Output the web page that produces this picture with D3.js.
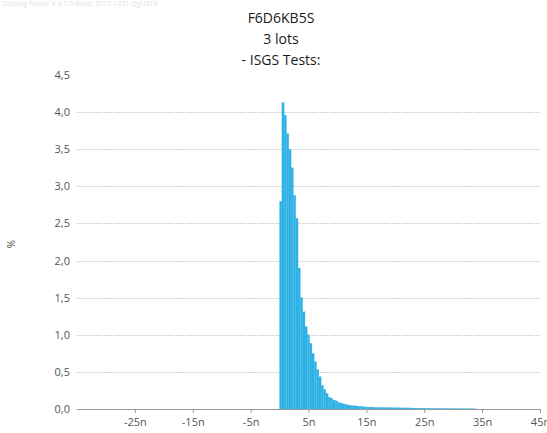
<!DOCTYPE html>
<html>
<head>
<meta charset="utf-8">
<script src="https://cdn.jsdelivr.net/npm/d3@7"></script>
<style>
  html, body { margin: 0; padding: 0; background: #fff; }
  svg { display: block; }
</style>
</head>
<body>
<script>
// Title lines
const titleLines = ["F6D6KB5S", "3 lots", "- ISGS Tests:"];
const watermark = "Datalog Finder V 4.1.0 Build: 2017-1251 QgUSTK";

// Histogram: bins of 0.4n starting at 0n, values in %
const binStart = 0;      // n
const binWidth = 0.4;    // n
const binValues = [
  2.80, 4.13, 3.96, 3.71, 3.50, 3.25, 2.88, 2.57, 1.90, 1.50,
  1.31, 1.11, 1.00, 0.885, 0.75, 0.64, 0.53, 0.435, 0.32, 0.265,
  0.21, 0.16, 0.145, 0.12, 0.11, 0.09, 0.08, 0.07, 0.065, 0.055,
  0.05, 0.045, 0.045, 0.04, 0.035, 0.035, 0.03, 0.028, 0.025, 0.027,
  0.024, 0.022, 0.02, 0.023, 0.019, 0.02, 0.018, 0.021, 0.017, 0.018,
  0.016, 0.017, 0.015, 0.016, 0.014, 0.015, 0.013, 0.014, 0.012, 0.013,
  0.012, 0.011, 0.012, 0.01, 0.011, 0.009, 0.01, 0.009, 0.008, 0.009,
  0.008, 0.007, 0.008, 0.006, 0.007, 0.006, 0.005, 0.006, 0.005, 0.004,
  0.005, 0.004, 0.003, 0.004, 0.003
];

// Axis ticks
const xTicks = [-25, -15, -5, 5, 15, 25, 35, 45];
const yTicks = [0, 0.5, 1, 1.5, 2, 2.5, 3, 3.5, 4, 4.5];
const yLabel = "%";

const W = 547, H = 433;
const plot = { left: 77, right: 540, top: 75, bottom: 409 };

const svg = d3.select("body").append("svg")
  .attr("width", W).attr("height", H);

const x = d3.scaleLinear().domain([-35, 45]).range([plot.left, plot.right]);
const y = d3.scaleLinear().domain([0, 4.5]).range([plot.bottom, plot.top]);

const font = "'Open Sans', 'DejaVu Sans', sans-serif";

// faint build stamp
svg.append("text")
  .attr("x", 2).attr("y", 6)
  .attr("font-family", font).attr("font-size", 7)
  .attr("fill", "#e2e2e2")
  .text(watermark);

// titles
svg.selectAll("text.title").data(titleLines).join("text")
  .attr("class", "title")
  .attr("x", 281).attr("y", (d, i) => 23 + i * 21)
  .attr("text-anchor", "middle")
  .attr("font-family", font).attr("font-size", 14)
  .attr("fill", "#1a1a1a")
  .text(d => d);

// horizontal grid
svg.append("g").selectAll("line")
  .data(yTicks.filter(v => v > 0 && v < 4.5))
  .join("line")
  .attr("x1", plot.left).attr("x2", plot.right)
  .attr("y1", d => Math.round(y(d)) + 0.5).attr("y2", d => Math.round(y(d)) + 0.5)
  .attr("stroke", "#dcdcdc").attr("stroke-width", 1)
  .attr("stroke-dasharray", "8,1");

// y tick labels
const fmt = v => d3.format(".1f")(v).replace(".", ",");
svg.append("g").selectAll("text")
  .data(yTicks).join("text")
  .attr("x", 70).attr("y", d => y(d) + 4)
  .attr("text-anchor", "end")
  .attr("font-family", font).attr("font-size", 11)
  .attr("fill", "#555")
  .text(fmt);

// y axis title
svg.append("text")
  .attr("transform", `translate(15,${(plot.top + plot.bottom) / 2 + 2}) rotate(-90)`)
  .attr("text-anchor", "middle")
  .attr("font-family", font).attr("font-size", 10)
  .attr("fill", "#555")
  .text(yLabel);

// histogram bars
const bins = binValues.map((v, i) => ({
  x0: binStart + i * binWidth,
  x1: binStart + (i + 1) * binWidth,
  v
}));
svg.append("g").selectAll("rect")
  .data(bins).join("rect")
  .attr("x", d => x(d.x0))
  .attr("width", d => Math.max(0.5, x(d.x1) - x(d.x0)))
  .attr("y", d => y(d.v))
  .attr("height", d => y(0) - y(d.v))
  .attr("fill", "#2eb1e4")
  .attr("stroke", "#3db8e8")
  .attr("stroke-width", 0.2);

// x axis
const xAxis = d3.axisBottom(x)
  .tickValues(xTicks)
  .tickSize(4)
  .tickFormat(d => `${d}n`);
const gx = svg.append("g")
  .attr("transform", `translate(0,${plot.bottom})`)
  .call(xAxis);
gx.select(".domain").attr("stroke", "#999").attr("d", `M${plot.left},0.5H${plot.right}`);
gx.selectAll(".tick line").attr("stroke", "#999");
gx.selectAll(".tick text")
  .attr("font-family", font).attr("font-size", 11)
  .attr("fill", "#555").attr("dy", "0.9em");
</script>
</body>
</html>
